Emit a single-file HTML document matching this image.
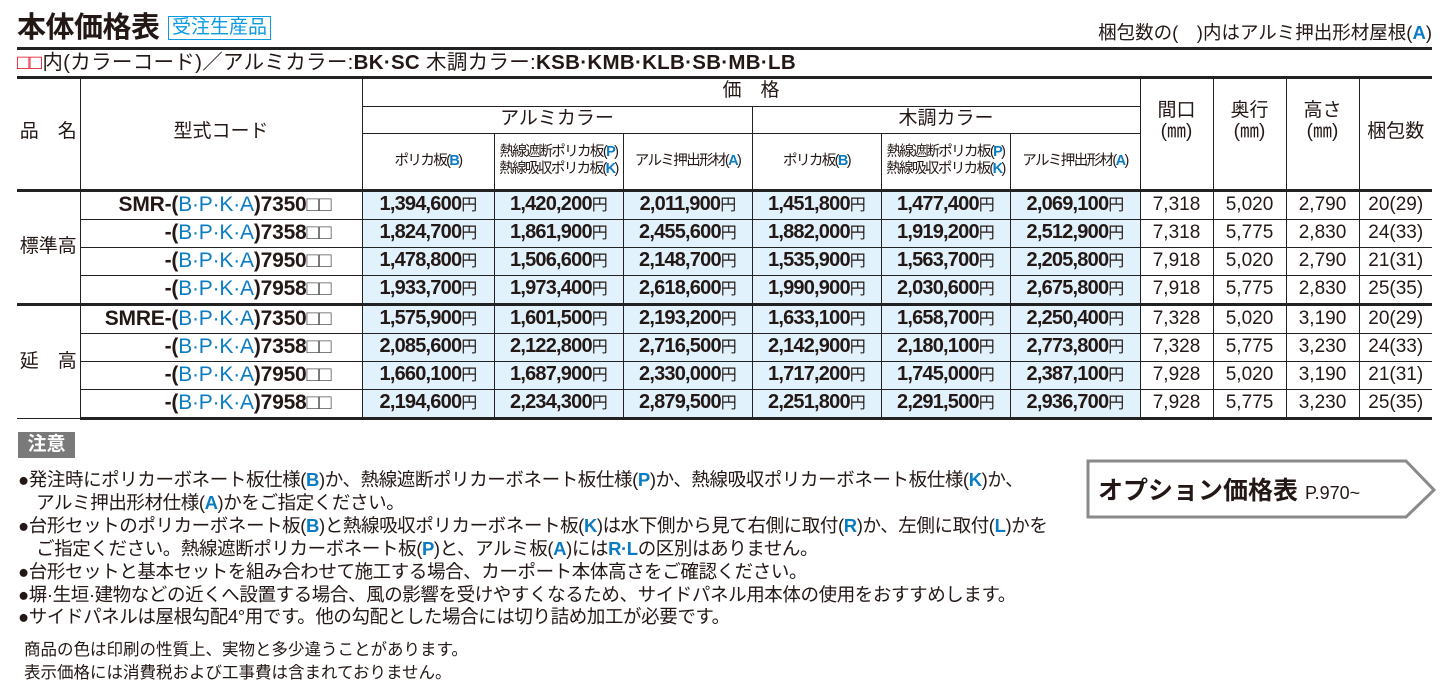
<!DOCTYPE html>
<html><head><meta charset="utf-8">
<style>
body{margin:0;width:1449px;height:699px;background:#fff;position:relative;overflow:hidden;font-family:"Liberation Sans","Noto Sans CJK JP",sans-serif;color:#231815}
.a{position:absolute;white-space:nowrap}
.b{color:#0a7cc4;font-weight:bold}
table{position:absolute;left:17px;top:77px;border-collapse:collapse;table-layout:fixed}
td{border:1px solid #222;padding:0;text-align:center;vertical-align:middle;font-size:18px;line-height:1.1;white-space:nowrap;overflow:hidden}
tr.d td{height:27px;line-height:20px}
.p{background:#e2f2fc;font-weight:bold;font-size:20px;letter-spacing:-0.8px}
.c{text-align:right;padding-right:30px;font-weight:bold;font-size:21px;letter-spacing:-0.2px}
.n{font-size:19px}
.sm{font-size:14.5px;letter-spacing:-1.6px;line-height:1.15}
.thk td{border-top:3px solid #222}
.note{font-size:18.5px;left:18px;letter-spacing:-0.4px}
</style></head><body>
<div class="a" style="left:17px;top:4px;font-size:29px;font-weight:bold;letter-spacing:-0.5px">本体価格表</div>
<div class="a" style="left:168px;top:16px;font-size:19px;color:#0a9ae0;border:1px solid #0a9ae0;padding:0 3px;line-height:22px">受注生産品</div>
<div class="a" style="right:17px;top:19px;font-size:18.5px">梱包数の(　)内はアルミ押出形材屋根(<span class="b">A</span>)</div>
<div class="a" style="left:17px;top:47px;width:1415px;height:3px;background:#222"></div>
<div class="a" style="left:17px;top:52px;font-size:20.5px;line-height:22px;letter-spacing:0.3px"><span style="color:#e60012">□□</span>内(カラーコード)／アルミカラー:<b>BK·SC</b> 木調カラー:<b>KSB·KMB·KLB·SB·MB·LB</b></div>
<div class="a" style="left:17px;top:76px;width:1415px;height:3px;background:#222"></div>
<table>
<colgroup><col style="width:63px"><col style="width:282px"><col style="width:132px"><col style="width:129px"><col style="width:129px"><col style="width:129px"><col style="width:129px"><col style="width:130px"><col style="width:73px"><col style="width:73px"><col style="width:73px"><col style="width:73px"></colgroup>
<tr style="height:29px"><td rowspan="3" style="border-left:none;border-top:none;font-size:19px">品　名</td><td rowspan="3" style="border-top:none;font-size:19px">型式コード</td><td colspan="6" style="border-top:none;font-size:19px">価　格</td><td rowspan="3" style="border-top:none;font-size:19px">間口<br>(㎜)<br>&nbsp;</td><td rowspan="3" style="border-top:none;font-size:19px">奥行<br>(㎜)<br>&nbsp;</td><td rowspan="3" style="border-top:none;font-size:19px">高さ<br>(㎜)<br>&nbsp;</td><td rowspan="3" style="border-top:none;border-right:none;font-size:19px">梱包数</td></tr>
<tr style="height:27px"><td colspan="3" style="font-size:19px">アルミカラー</td><td colspan="3" style="font-size:19px">木調カラー</td></tr>
<tr style="height:57px"><td class="sm">ポリカ板(<span class="b">B</span>)</td><td class="sm">熱線遮断ポリカ板(<span class="b">P</span>)<br>熱線吸収ポリカ板(<span class="b">K</span>)</td><td class="sm">アルミ押出形材(<span class="b">A</span>)</td><td class="sm">ポリカ板(<span class="b">B</span>)</td><td class="sm">熱線遮断ポリカ板(<span class="b">P</span>)<br>熱線吸収ポリカ板(<span class="b">K</span>)</td><td class="sm">アルミ押出形材(<span class="b">A</span>)</td></tr>
<tbody id="tb"></tbody>
</table>
<div class="a" style="left:18px;top:432px;width:57px;height:26px;background:#7a7a7a;color:#fff;font-size:19px;font-weight:bold;text-align:center;line-height:26px">注意</div>
<div class="a note" style="top:466px">●発注時にポリカーボネート板仕様(<span class="b">B</span>)か、熱線遮断ポリカーボネート板仕様(<span class="b">P</span>)か、熱線吸収ポリカーボネート板仕様(<span class="b">K</span>)か、</div>
<div class="a note" style="top:489px">　アルミ押出形材仕様(<span class="b">A</span>)かをご指定ください。</div>
<div class="a note" style="top:512px">●台形セットのポリカーボネート板(<span class="b">B</span>)と熱線吸収ポリカーボネート板(<span class="b">K</span>)は水下側から見て右側に取付(<span class="b">R</span>)か、左側に取付(<span class="b">L</span>)かを</div>
<div class="a note" style="top:535px">　ご指定ください。熱線遮断ポリカーボネート板(<span class="b">P</span>)と、アルミ板(<span class="b">A</span>)には<span class="b">R·L</span>の区別はありません。</div>
<div class="a note" style="top:558px">●台形セットと基本セットを組み合わせて施工する場合、カーポート本体高さをご確認ください。</div>
<div class="a note" style="top:581px">●塀·生垣·建物などの近くへ設置する場合、風の影響を受けやすくなるため、サイドパネル用本体の使用をおすすめします。</div>
<div class="a note" style="top:603px">●サイドパネルは屋根勾配4°用です。他の勾配とした場合には切り詰め加工が必要です。</div>
<div class="a" style="left:24px;top:636px;font-size:16.5px">商品の色は印刷の性質上、実物と多少違うことがあります。</div>
<div class="a" style="left:24px;top:659px;font-size:16.5px">表示価格には消費税および工事費は含まれておりません。</div>
<svg class="a" style="left:1086px;top:459px" width="352" height="62"><polygon points="2,2 320,2 348,31 320,58 2,58" fill="#fff" stroke="#8a8a8a" stroke-width="3"/><text x="12" y="40" font-size="25" font-weight="bold" fill="#231815" font-family="Liberation Sans, Noto Sans CJK JP, sans-serif">オプション価格表 <tspan font-size="18" font-weight="normal">P.970~</tspan></text></svg>
<script>
const codes=["7350","7358","7950","7958","7350","7358","7950","7958"];
const alB=["1,394,600","1,824,700","1,478,800","1,933,700","1,575,900","2,085,600","1,660,100","2,194,600"];
const alP=["1,420,200","1,861,900","1,506,600","1,973,400","1,601,500","2,122,800","1,687,900","2,234,300"];
const alA=["2,011,900","2,455,600","2,148,700","2,618,600","2,193,200","2,716,500","2,330,000","2,879,500"];
const wdB=["1,451,800","1,882,000","1,535,900","1,990,900","1,633,100","2,142,900","1,717,200","2,251,800"];
const wdP=["1,477,400","1,919,200","1,563,700","2,030,600","1,658,700","2,180,100","1,745,000","2,291,500"];
const wdA=["2,069,100","2,512,900","2,205,800","2,675,800","2,250,400","2,773,800","2,387,100","2,936,700"];
const widths=["7,318","7,318","7,918","7,918","7,328","7,328","7,928","7,928"];
const depths=["5,020","5,775","5,020","5,775","5,020","5,775","5,020","5,775"];
const heights=["2,790","2,830","2,790","2,830","3,190","3,230","3,190","3,230"];
const packs=["20(29)","24(33)","21(31)","25(35)","20(29)","24(33)","21(31)","25(35)"];
const tb=document.getElementById('tb');
for(let i=0;i<8;i++){
 const tr=document.createElement('tr');
 tr.className='d'+(i%4==0?' thk':'');
 
 
 let h='';
 if(i%4==0)h+='<td rowspan="4" style="border-left:none;font-size:19px">'+(i==0?'標準高':'延　高')+'</td>';
 const pre=i==0?'SMR':(i==4?'SMRE':'');
 h+='<td class="c">'+pre+'-(<span class="b" style="font-weight:normal">B·P·K·A</span>)'+codes[i]+'<span style="color:#555;font-weight:normal">□□</span></td>';
 [alB,alP,alA,wdB,wdP,wdA].forEach(a=>{h+='<td class="p">'+a[i]+'<span style="font-weight:normal;font-size:16px">円</span></td>';});
 h+='<td class="n">'+widths[i]+'</td><td class="n">'+depths[i]+'</td><td class="n">'+heights[i]+'</td><td class="n" style="border-right:none">'+packs[i]+'</td>';
 tr.innerHTML=h;
 if(i==7)tr.querySelectorAll('td').forEach(t=>t.style.borderBottom='3px solid #222');
 tb.appendChild(tr);
}
</script>
</body></html>
